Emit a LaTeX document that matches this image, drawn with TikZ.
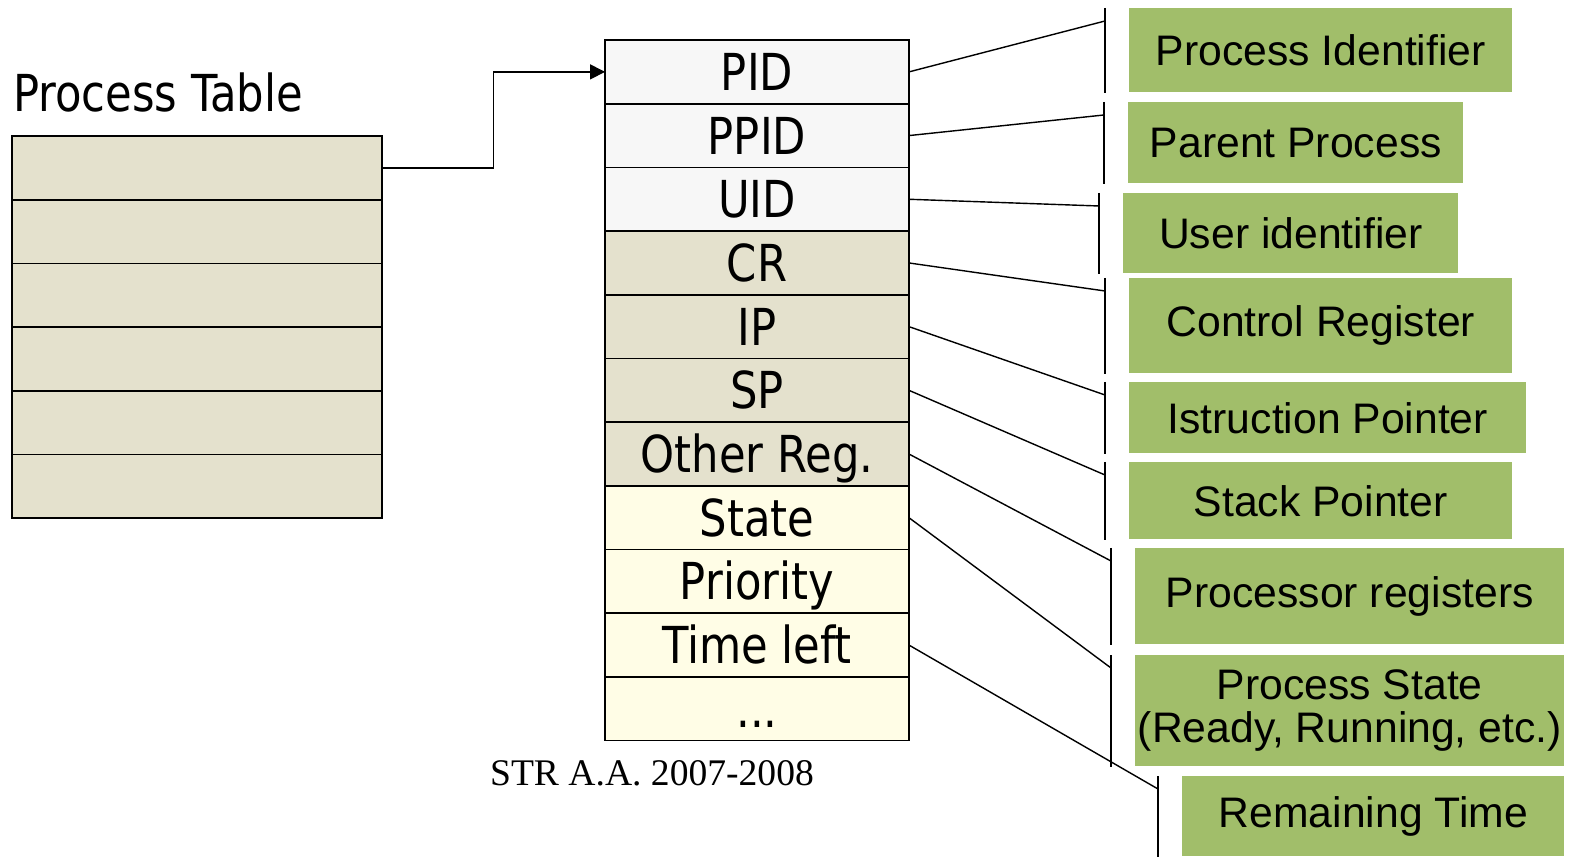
\documentclass[tikz,border=0pt]{standalone}
\usepackage{fontspec}
\newfontfamily\tahoma[FakeStretch=0.85]{DejaVu Sans}
\newfontfamily\arialfont{Liberation Sans}
\newfontfamily\timesfont{Liberation Serif}
\usetikzlibrary{positioning,arrows.meta,calc}
\definecolor{infogreen}{HTML}{A1BE6A}
\definecolor{regbeige}{HTML}{E4E1CD}
\definecolor{idgray}{HTML}{F7F7F7}
\definecolor{schedyellow}{HTML}{FFFDE6}

\begin{document}
\begin{tikzpicture}[x=0.02cm, y=-0.02cm,
  ptrow/.style={
    draw, fill=regbeige, line width=0.9pt, inner sep=0pt, outer sep=0pt,
    minimum width=7.4cm, minimum height=1.274cm,
  },
  pcbrow/.style={
    draw, line width=0.9pt, inner sep=0pt, outer sep=0pt,
    minimum width=6.08cm, minimum height=1.274cm,
    font=\tahoma\fontsize{29}{31}\selectfont, text height=21pt, text depth=0pt,
  },
  info/.style={
    fill=infogreen, anchor=north west, inner sep=0pt, align=center,
    font=\arialfont\fontsize{24.3}{24.5}\selectfont,
  },
  ptr/.style={-{Triangle[length=0.3cm, width=0.3cm]}, line width=0.9pt},
  lead/.style={line width=0.8pt},
  brk/.style={line width=0.8pt},
]
  \useasboundingbox (0,0) rectangle (1575,857);

  % Process table
  \node[anchor=base west, inner sep=0pt, font=\tahoma\fontsize{29}{31}\selectfont]
    (tbltitle) at (12.7, 111.7) {Process Table};
  \node[ptrow] (t1) at (197, 167.9) {};
  \node[ptrow, below=0pt of t1] (t2) {};
  \node[ptrow, below=0pt of t2] (t3) {};
  \node[ptrow, below=0pt of t3] (t4) {};
  \node[ptrow, below=0pt of t4] (t5) {};
  \node[ptrow, below=0pt of t5] (t6) {};

  % Process control block
  \node[pcbrow, fill=idgray] (pid) at (757, 71.9) {PID};
  \node[pcbrow, fill=idgray, below=0pt of pid] (ppid) {PPID};
  \node[pcbrow, fill=idgray, below=0pt of ppid] (uid) {UID};
  \node[pcbrow, fill=regbeige, below=0pt of uid] (cr) {CR};
  \node[pcbrow, fill=regbeige, below=0pt of cr] (ip) {IP};
  \node[pcbrow, fill=regbeige, below=0pt of ip] (sp) {SP};
  \node[pcbrow, fill=regbeige, below=0pt of sp] (oreg) {Other Reg.};
  \node[pcbrow, fill=schedyellow, below=0pt of oreg] (state) {State};
  \node[pcbrow, fill=schedyellow, below=0pt of state] (prio) {Priority};
  \node[pcbrow, fill=schedyellow, below=0pt of prio] (tleft) {Time left};
  \node[pcbrow, fill=schedyellow, below=0pt of tleft] (more) {...};

  \draw[ptr] (t1.east) -| ($(t1.east)!0.5!(pid.west)$) |- (pid.west);

  \node[anchor=base, inner sep=0pt, font=\timesfont\fontsize{21.4}{24}\selectfont]
    (footer) at (652, 785) {STR A.A. 2007-2008};

  % Descriptions
  \node[info, minimum width=7.66cm, minimum height=1.68cm] (pidbox) at (1129, 8) {Process Identifier};
  \node[info, minimum width=6.70cm, minimum height=1.62cm] (ppidbox) at (1128, 102) {Parent Process};
  \node[info, minimum width=6.70cm, minimum height=1.60cm] (uidbox) at (1123, 193) {User identifier};
  \node[info, minimum width=7.66cm, minimum height=1.90cm] (crbox) at (1129, 278) {Control Register};
  \node[info, minimum width=7.94cm, minimum height=1.42cm] (ipbox) at (1129, 382) {Istruction Pointer};
  \node[info, minimum width=7.66cm, minimum height=1.54cm] (spbox) at (1129, 462) {Stack Pointer};
  \node[info, minimum width=8.58cm, minimum height=1.92cm] (oregbox) at (1135, 548) {Processor registers};
  \node[info, minimum width=8.58cm, minimum height=2.22cm] (statebox) at (1135, 655) {Process State\\(Ready, Running, etc.)};
  \node[info, minimum width=7.64cm, minimum height=1.60cm] (tleftbox) at (1182, 776) {Remaining Time};

  \draw[brk] ([xshift=-0.48cm]pidbox.north west) -- ([xshift=-0.48cm]pidbox.south west);
  \draw[brk] ([xshift=-0.48cm]ppidbox.north west) -- ([xshift=-0.48cm]ppidbox.south west);
  \draw[brk] ([xshift=-0.48cm]uidbox.north west) -- ([xshift=-0.48cm]uidbox.south west);
  \draw[brk] ([xshift=-0.48cm]crbox.north west) -- ([xshift=-0.48cm]crbox.south west);
  \draw[brk] ([xshift=-0.48cm]ipbox.north west) -- ([xshift=-0.48cm]ipbox.south west);
  \draw[brk] ([xshift=-0.48cm]spbox.north west) -- ([xshift=-0.48cm]spbox.south west);
  \draw[brk] ([xshift=-0.48cm]oregbox.north west) -- ([xshift=-0.48cm]oregbox.south west);
  \draw[brk] ([xshift=-0.48cm]statebox.north west) -- ([xshift=-0.48cm]statebox.south west);
  \draw[brk] ([xshift=-0.48cm]tleftbox.north west) -- ([xshift=-0.48cm]tleftbox.south west);

  \draw[lead] (pid.east) -- ([xshift=-0.48cm, yshift=-0.26cm]pidbox.north west);
  \draw[lead] (ppid.east) -- ([xshift=-0.48cm, yshift=-0.26cm]ppidbox.north west);
  \draw[lead] (uid.east) -- ([xshift=-0.48cm, yshift=-0.26cm]uidbox.north west);
  \draw[lead] (cr.east) -- ([xshift=-0.48cm, yshift=-0.26cm]crbox.north west);
  \draw[lead] (ip.east) -- ([xshift=-0.48cm, yshift=-0.26cm]ipbox.north west);
  \draw[lead] (sp.east) -- ([xshift=-0.48cm, yshift=-0.26cm]spbox.north west);
  \draw[lead] (oreg.east) -- ([xshift=-0.48cm, yshift=-0.26cm]oregbox.north west);
  \draw[lead] (state.east) -- ([xshift=-0.48cm, yshift=-0.26cm]statebox.north west);
  \draw[lead] (tleft.east) -- ([xshift=-0.48cm, yshift=-0.26cm]tleftbox.north west);
\end{tikzpicture}
\end{document}
